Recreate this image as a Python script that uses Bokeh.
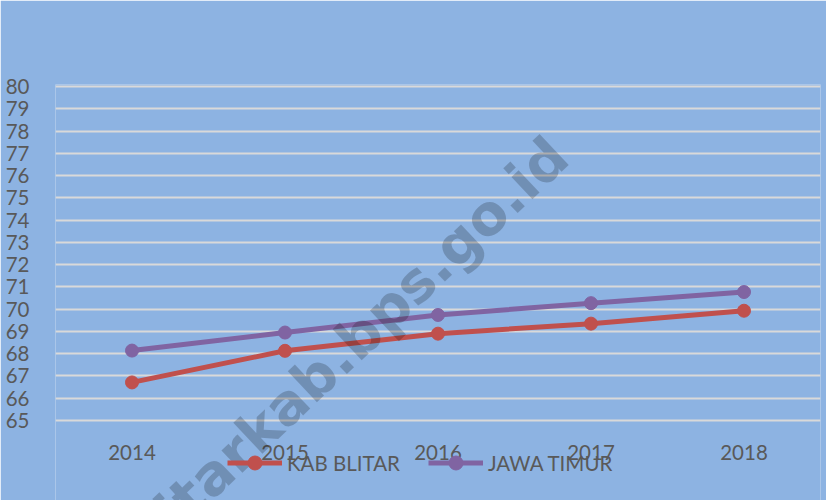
from bokeh.plotting import figure
from bokeh.models import Range1d, FixedTicker, Legend, LegendItem, Label
from bokeh.core.properties import value
from bokeh.embed import file_html
from bokeh.resources import INLINE

years = ["2014", "2015", "2016", "2017", "2018"]
kab_blitar = [66.71, 68.13, 68.90, 69.35, 69.93]
jawa_timur = [68.14, 68.95, 69.74, 70.27, 70.77]
y_ticks = list(range(65, 81))
watermark = "blitarkab.bps.go.id"

BG = "#8DB3E2"
RED = "#C0504D"
PURPLE = "#8064A2"
FONT = "Lato"
FS = "20.5px"
TXT = "#595959"

xs = list(range(len(years)))

# frame: x from 55 to 820 px, y from 84 px to bottom (500 px); 80 -> 86 px, 65 -> 420 px
px_per_unit = (420 - 86) / 15.0
y_top = 80 + 2 / px_per_unit
y_bot = y_top - (500 - 84) / px_per_unit

p = figure(width=826, height=500, output_backend="svg", toolbar_location=None,
           x_range=Range1d(-0.5, len(years) - 0.5), y_range=Range1d(y_bot, y_top),
           min_border_left=55, min_border_right=6, min_border_top=84, min_border_bottom=0)
p.background_fill_color = BG
p.border_fill_color = BG
p.outline_line_color = None

p.xaxis.visible = False
p.yaxis.ticker = FixedTicker(ticks=y_ticks)
p.yaxis.axis_line_color = None
p.yaxis.major_tick_line_color = None
p.yaxis.minor_tick_line_color = None
p.yaxis.major_label_text_font = FONT
p.yaxis.major_label_text_font_size = FS
p.yaxis.major_label_text_color = TXT
p.yaxis.major_label_standoff = 20
p.xgrid.grid_line_color = None
p.ygrid.grid_line_color = "#D9D9D9"
p.ygrid.grid_line_width = 2

# category labels under the plot area
label_y = 65 - (452 - 420) / px_per_unit
p.text(x=xs, y=[label_y] * len(xs), text=years, text_align="center",
       text_baseline="middle", text_font=value(FONT), text_font_size=FS,
       text_color=TXT)

l1 = p.line(xs, kab_blitar, line_color=RED, line_width=5)
c1 = p.scatter(xs, kab_blitar, size=13, fill_color=RED, line_color=RED)
l2 = p.line(xs, jawa_timur, line_color=PURPLE, line_width=5)
c2 = p.scatter(xs, jawa_timur, size=13, fill_color=PURPLE, line_color=PURPLE)

legend = Legend(items=[LegendItem(label="KAB BLITAR", renderers=[l1, c1]),
                       LegendItem(label="JAWA TIMUR", renderers=[l2, c2])],
                orientation="horizontal", location=(172, 20),
                glyph_width=55, glyph_height=35, label_standoff=5, spacing=28,
                padding=0, margin=0, border_line_color=None,
                background_fill_alpha=0,
                label_text_font=FONT, label_text_font_size=FS,
                label_text_color=TXT)
p.add_layout(legend)

wm = Label(x=1.36, y=68.0, text=watermark, angle=0.756, text_align="center",
           text_baseline="middle", text_font="DejaVu Sans", text_font_style="bold",
           text_font_size="56px", text_color="black", text_alpha=0.2)
p.add_layout(wm)

open("out.html", "w").write(file_html(p, INLINE))
